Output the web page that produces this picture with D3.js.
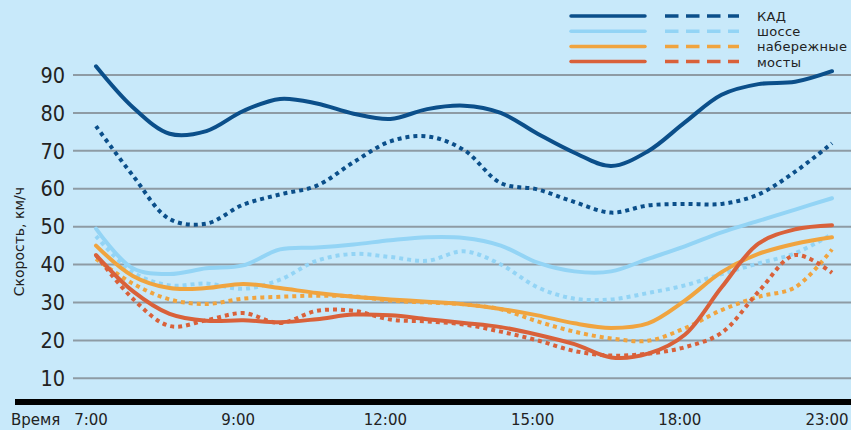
<!DOCTYPE html>
<html lang="ru">
<head>
  <meta charset="UTF-8">
  <title>Скорость движения</title>
  <script src="https://d3js.org/d3.v7.min.js"></script>
  <style>
    html, body {
      margin: 0;
      padding: 0;
      background: #c8e9fa;
    }
    svg {
      display: block;
      font-family: "DejaVu Sans", sans-serif;
    }
    .grid line {
      stroke: #8e9ba4;
      stroke-width: 2;
    }
    .ytick {
      font-family: "DejaVu Sans Condensed", "DejaVu Sans", sans-serif;
      font-size: 21.5px;
      fill: #222;
    }
    .xtick {
      font-size: 15px;
      fill: #222;
    }
    .legend text {
      font-size: 13px;
      letter-spacing: 0.3px;
      fill: #222;
    }
  </style>
</head>
<body>
  <script>
    // часы (подписи оси X) и точки наблюдений: 21 точка, подпись через каждые 4
    const timeLabels = ["7:00", "9:00", "12:00", "15:00", "18:00", "23:00"];
    const steps = d3.range(21);
    const yTicks = [10, 20, 30, 40, 50, 60, 70, 80, 90];

    const series = ["КАД", "шоссе", "набережные", "мосты"];
    const colors = ["#0b4f8a", "#93d4f5", "#f0a43f", "#d9613a"];

    // будни (сплошные линии)
    const kadSolid    = [92.3, 81.5, 74.5, 75.2, 80.5, 83.7, 82.5, 79.8, 78.4, 81, 81.9, 80, 74.5, 69.5, 66, 69.9, 77.5, 84.8, 87.6, 88.2, 91];
    const shosseSolid = [49.5, 39, 37.5, 39, 39.8, 44, 44.5, 45.3, 46.4, 47.2, 47, 45, 40.5, 38.2, 38.2, 41.5, 44.8, 48.5, 51.5, 54.5, 57.5];
    const naberSolid  = [45, 37, 33.8, 33.8, 34.9, 33.8, 32.5, 31.5, 30.8, 30.2, 29.5, 28.3, 26.6, 24.5, 23.3, 24.5, 30.5, 38, 42.8, 45.5, 47.2];
    const mostySolid  = [42.5, 33, 27, 25.2, 25.3, 24.8, 25.6, 26.8, 26.6, 25.6, 24.6, 23.5, 21.5, 19, 15.5, 16.5, 21.5, 34, 45.5, 49.3, 50.4];

    // выходные (пунктир)
    const kadDash     = [76.5, 63.5, 52, 50.8, 55.8, 58.5, 60.8, 67, 72.5, 73.8, 70.2, 61.5, 59.8, 56.5, 53.7, 55.6, 56, 56, 58.5, 64.5, 72];
    const shosseDash  = [47.5, 38, 34.5, 35, 33.6, 36, 41, 42.8, 42, 41, 43.5, 40, 34, 31, 30.8, 32.5, 34.5, 37.5, 40.3, 43, 48];
    const naberDash   = [41.5, 35, 30.8, 29.6, 31, 31.5, 31.8, 31.6, 30.5, 30, 29.5, 28.2, 25, 22.3, 20.5, 19.9, 23.2, 28, 31.5, 34, 44];
    const mostyDash   = [42.5, 31, 23.8, 25.3, 27.2, 24.6, 27.8, 27.8, 25.5, 25, 24.2, 22.3, 20, 17.2, 16, 16.5, 18.2, 22, 32.8, 42.5, 37.8];

    const solidData = [kadSolid, shosseSolid, naberSolid, mostySolid];
    const dashData = [kadDash, shosseDash, naberDash, mostyDash];

    const width = 851;
    const height = 430;

    const svg = d3.select("body")
      .append("svg")
      .attr("width", width)
      .attr("height", height);

    svg.append("rect")
      .attr("width", width)
      .attr("height", height)
      .attr("fill", "#c8e9fa");

    const x = d3.scaleLinear()
      .domain([0, steps.length - 1])
      .range([96, 832]);

    const y = d3.scaleLinear()
      .domain([10, 90])
      .range([378.3, 75]);

    // сетка
    svg.append("g")
      .attr("class", "grid")
      .selectAll("line")
      .data(yTicks)
      .join("line")
      .attr("x1", 73)
      .attr("x2", width)
      .attr("y1", d => y(d))
      .attr("y2", d => y(d));

    svg.append("g")
      .selectAll("text")
      .data(yTicks)
      .join("text")
      .attr("class", "ytick")
      .attr("x", 65)
      .attr("y", d => y(d))
      .attr("dy", "0.36em")
      .attr("text-anchor", "end")
      .text(d => d);

    svg.append("text")
      .attr("transform", `translate(24, ${y(45) - 4}) rotate(-90)`)
      .attr("text-anchor", "middle")
      .attr("font-size", 14)
      .attr("fill", "#222")
      .text("Скорость, км/ч");

    // линии
    const line = d3.line()
      .x((d, i) => x(i))
      .y(d => y(d))
      .curve(d3.curveCatmullRom.alpha(0.5));

    const lines = svg.append("g").attr("fill", "none");

    dashData.forEach((vals, k) => {
      lines.append("path")
        .attr("d", line(vals))
        .attr("stroke", colors[k])
        .attr("stroke-width", 4)
        .attr("stroke-dasharray", "4,4");
    });

    solidData.forEach((vals, k) => {
      lines.append("path")
        .attr("d", line(vals))
        .attr("stroke", colors[k])
        .attr("stroke-width", 4)
        .attr("stroke-linecap", "round");
    });

    // ось X
    svg.append("rect")
      .attr("x", 15)
      .attr("y", 399)
      .attr("width", width - 15)
      .attr("height", 6)
      .attr("fill", "#000");

    svg.append("text")
      .attr("class", "xtick")
      .attr("x", 11)
      .attr("y", 425)
      .text("Время");

    const tickSteps = [0, 4, 8, 12, 16, 20];
    svg.append("g")
      .selectAll("text")
      .data(tickSteps)
      .join("text")
      .attr("class", "xtick")
      .attr("x", (d, i) => x(d) - 5)
      .attr("y", 425)
      .attr("text-anchor", "middle")
      .text((d, i) => timeLabels[i]);

    // легенда
    const legend = svg.append("g").attr("class", "legend");
    series.forEach((name, k) => {
      const ly = 16 + k * 15.2;
      legend.append("line")
        .attr("x1", 571).attr("x2", 645)
        .attr("y1", ly).attr("y2", ly)
        .attr("stroke", colors[k])
        .attr("stroke-width", 3.5)
        .attr("stroke-linecap", "round");
      legend.append("line")
        .attr("x1", 665).attr("x2", 739)
        .attr("y1", ly).attr("y2", ly)
        .attr("stroke", colors[k])
        .attr("stroke-width", 3.5)
        .attr("stroke-dasharray", "13.5,7.5");
      legend.append("text")
        .attr("x", 757)
        .attr("y", ly + 5)
        .text(name);
    });
  </script>
</body>
</html>
